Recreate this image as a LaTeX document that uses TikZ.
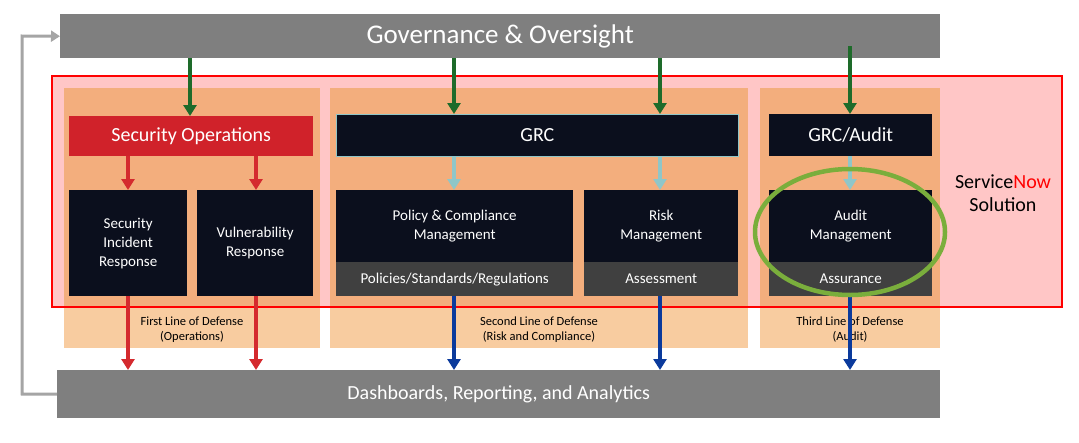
\documentclass[tikz,border=0pt]{standalone}
\usepackage{fontspec}
\setmainfont{Carlito}
\usetikzlibrary{arrows.meta}
\definecolor{gbar}{HTML}{7F7F7F}
\definecolor{pinkf}{HTML}{FFC6C6}
\definecolor{orD}{HTML}{F3AE7D}
\definecolor{orL}{HTML}{F8CCA0}
\definecolor{secred}{HTML}{D0222A}
\definecolor{navy}{HTML}{0B0F1D}
\definecolor{strip}{HTML}{404040}
\definecolor{grn}{HTML}{1E6B2A}
\definecolor{arred}{HTML}{D42A2E}
\definecolor{cyanA}{HTML}{8FC6C8}
\definecolor{blu}{HTML}{0B3A9C}
\definecolor{ell}{HTML}{7AAE3C}
\begin{document}
\begin{tikzpicture}[x=1pt,y=-1pt,
  bar/.style={fill=gbar,draw=none,text=white},
  blk/.style={fill=navy,draw=none,text=white,font=\fontsize{15}{19}\selectfont,align=center},
  stp/.style={fill=strip,draw=none,text=white,font=\fontsize{15}{18}\selectfont},
  tip/.style={-{Triangle[length=11pt,width=13pt]}},
  ga/.style={draw=grn,line width=4pt,tip},
  ra/.style={draw=arred,line width=4pt,tip},
  ca/.style={draw=cyanA,line width=4pt,tip},
  ba/.style={draw=blu,line width=4pt,tip},
  lbl/.style={font=\fontsize{12.5}{15}\selectfont,align=center}]
\useasboundingbox (0,0) rectangle (1079,442);
\fill[pinkf] (52,76) rectangle (1062,307);
\foreach \a/\b in {64/320,330/748,760/940}{\fill[orL] (\a,88) rectangle (\b,348);}
\begin{scope}
\clip (52,76) rectangle (1062,307);
\foreach \a/\b in {64/320,330/748,760/940}{\fill[orD] (\a,88) rectangle (\b,348);}
\end{scope}
\draw[red,line width=1.5pt] (52,76) rectangle (1062,307);
\node[bar,minimum width=880pt,minimum height=44pt,anchor=north west,inner sep=0,font=\fontsize{27}{30}\selectfont] (gov) at (60,14) {Governance \& Oversight};
\node[bar,minimum width=883pt,minimum height=48pt,anchor=north west,inner sep=0,font=\fontsize{20}{22}\selectfont] (dash) at (57,370) {Dashboards, Reporting, and Analytics};
\node[fill=secred,text=white,minimum width=244pt,minimum height=40pt,anchor=north west,inner sep=0,font=\fontsize{20}{22}\selectfont] (sec) at (69,116) {Security Operations};
\node[fill=navy,draw=cyanA,line width=0.8pt,text=white,minimum width=402pt,minimum height=42pt,anchor=north west,inner sep=0,font=\fontsize{20}{22}\selectfont] (grc) at (336,114) {GRC};
\node[fill=navy,text=white,minimum width=163pt,minimum height=42pt,anchor=north west,inner sep=0,font=\fontsize{20}{22}\selectfont] (grca) at (769,114) {GRC/Audit};
\node[blk,minimum width=118pt,minimum height=106pt,anchor=north west,inner sep=0] (sir) at (69,190) {Security\\Incident\\Response};
\node[blk,minimum width=116pt,minimum height=106pt,anchor=north west,inner sep=0] (vr) at (197,190) {Vulnerability\\Response};
\node[blk,minimum width=237pt,minimum height=72pt,anchor=north west,inner sep=0] (pcm) at (336,190) {Policy \& Compliance\\Management};
\node[stp,minimum width=237pt,minimum height=34pt,anchor=north west,inner sep=0] (pol) at (336,262) {Policies/Standards/Regulations};
\node[blk,minimum width=154pt,minimum height=72pt,anchor=north west,inner sep=0] (rm) at (584,190) {Risk\\Management};
\node[stp,minimum width=154pt,minimum height=34pt,anchor=north west,inner sep=0] (as) at (584,262) {Assessment};
\node[blk,minimum width=163pt,minimum height=72pt,anchor=north west,inner sep=0] (am) at (769,190) {Audit\\Management};
\node[stp,minimum width=163pt,minimum height=34pt,anchor=north west,inner sep=0] (asu) at (769,262) {Assurance};
\node[lbl] (l1) at (192,330) {First Line of Defense\\(Operations)};
\node[lbl] (l2) at (539,330) {Second Line of Defense\\(Risk and Compliance)};
\node[lbl] (l3) at (850,330) {Third Line of Defense\\(Audit)};
\node[font=\fontsize{20}{23}\selectfont,align=center] (sn) at (1003,193) {Service\textcolor{red}{Now}\\Solution};
\draw[ga] (190,58) -- (190,116);
\draw[ga] (454,58) -- (454,114);
\draw[ga] (660,58) -- (660,114);
\draw[ga] (850,46) -- (850,114);
\draw[ra] (128,156) -- (128,190);
\draw[ra] (256,156) -- (256,190);
\draw[ra] (128,296) -- (128,370);
\draw[ra] (256,296) -- (256,370);
\draw[ca] (454,156) -- (454,190);
\draw[ca] (660,156) -- (660,190);
\draw[ca] (850,156) -- (850,190);
\draw[ba] (454,296) -- (454,370);
\draw[ba] (660,296) -- (660,370);
\draw[ba] (850,296) -- (850,370);
\draw[draw=gbar!70,line width=3pt,-{Triangle[length=9pt,width=11pt]}] (dash.west) -- (22,394) -- (22,36) -- (gov.west);
\draw[ell,line width=4.5pt] (850,232) ellipse [x radius=95, y radius=63];
\end{tikzpicture}
\end{document}
